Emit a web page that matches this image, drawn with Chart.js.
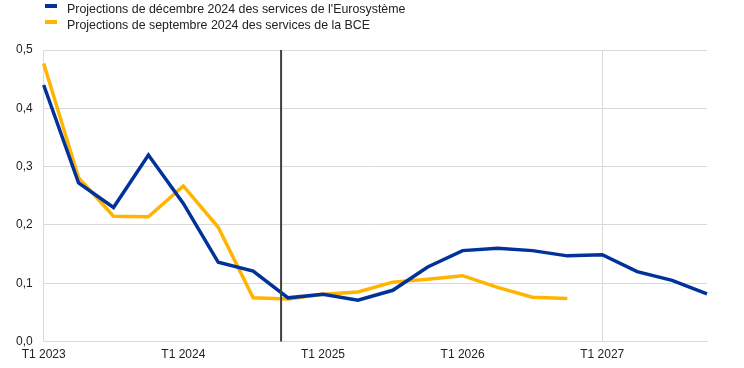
<!DOCTYPE html>
<html>
<head>
<meta charset="utf-8">
<script src="https://cdn.jsdelivr.net/npm/chart.js@4/dist/chart.umd.min.js"></script>
<style>
  body { margin: 0; background: #fff; }
  #wrap { position: relative; width: 744px; height: 368px; }
  #legend { position: absolute; left: 45px; top: 1px; font: 12.4px "Liberation Sans", Arial, sans-serif; color: #222; }
  .item { height: 16px; line-height: 16px; white-space: nowrap; }
  .sw { display: inline-block; width: 12px; height: 4px; margin-right: 10px; vertical-align: 5px; }
</style>
</head>
<body>
<div id="wrap">
  <canvas id="myChart" width="744" height="368"></canvas>
  <div id="legend"></div>
</div>
<script>
let quarters = ['T1 2023', 'T2 2023', 'T3 2023', 'T4 2023',
  'T1 2024', 'T2 2024', 'T3 2024', 'T4 2024',
  'T1 2025', 'T2 2025', 'T3 2025', 'T4 2025',
  'T1 2026', 'T2 2026', 'T3 2026', 'T4 2026',
  'T1 2027', 'T2 2027', 'T3 2027', 'T4 2027'];
let seriesNames = ['Projections de décembre 2024 des services de l\'Eurosystème',
  'Projections de septembre 2024 des services de la BCE'];
let colorHex = ['#003299', '#ffb400'];

let decembre = [0.440, 0.272, 0.230, 0.320, 0.237, 0.136, 0.121, 0.075,
  0.081, 0.071, 0.088, 0.128, 0.156, 0.160, 0.156, 0.147,
  0.149, 0.120, 0.105, 0.082];
let septembre = [0.477, 0.281, 0.215, 0.214, 0.267, 0.196, 0.075, 0.073,
  0.081, 0.085, 0.102, 0.107, 0.113, 0.093, 0.076, 0.074];

// position of the vertical separator, in quarters from T1 2023
let cutOff = 6.8;

let legendBox = document.getElementById('legend');
seriesNames.forEach((name, i) => {
  let row = document.createElement('div');
  row.className = 'item';
  row.innerHTML = '<span class="sw" style="background:' + colorHex[i] + '"></span>' + name;
  legendBox.appendChild(row);
});

let cutLine = {
  id: 'cutLine',
  afterDatasetsDraw(chart) {
    let x = chart.scales.x.getPixelForValue(cutOff);
    let area = chart.chartArea;
    let c = chart.ctx;
    c.save();
    c.strokeStyle = '#404040';
    c.lineWidth = 2;
    c.beginPath();
    c.moveTo(x, area.top);
    c.lineTo(x, area.bottom);
    c.stroke();
    c.restore();
  }
};

let ctx = document.getElementById('myChart').getContext('2d');
let myChart = new Chart(ctx, {
  type: 'line',
  data: {
    labels: quarters,
    datasets: [{
      label: seriesNames[0],
      data: decembre,
      borderColor: colorHex[0],
      backgroundColor: colorHex[0]
    }, {
      label: seriesNames[1],
      data: septembre,
      borderColor: colorHex[1],
      backgroundColor: colorHex[1]
    }]
  },
  options: {
    responsive: false,
    animation: false,
    layout: { padding: { top: 50, right: 37, left: 5, bottom: 0 } },
    elements: {
      point: { radius: 0 },
      line: { borderWidth: 3.5, tension: 0, borderCapStyle: 'butt', borderJoinStyle: 'miter' }
    },
    plugins: {
      legend: { display: false },
      tooltip: { enabled: false }
    },
    scales: {
      x: {
        offset: false,
        grid: {
          drawTicks: false,
          color: (c) => c.index % 4 === 0 ? '#d9d9d9' : 'transparent'
        },
        border: { color: '#d9d9d9' },
        ticks: {
          autoSkip: false,
          maxRotation: 0,
          padding: 6,
          color: '#222',
          font: { family: 'Liberation Sans', size: 12 },
          callback: (v, i) => i % 4 === 0 ? quarters[i] : null
        }
      },
      y: {
        min: 0,
        max: 0.5,
        grid: { drawTicks: false, color: '#d9d9d9' },
        border: { display: false },
        ticks: {
          stepSize: 0.1,
          padding: 11,
          color: '#222',
          font: { family: 'Liberation Sans', size: 12 },
          callback: (v) => v.toFixed(1).replace('.', ',')
        }
      }
    }
  },
  plugins: [cutLine]
});
</script>
</body>
</html>
